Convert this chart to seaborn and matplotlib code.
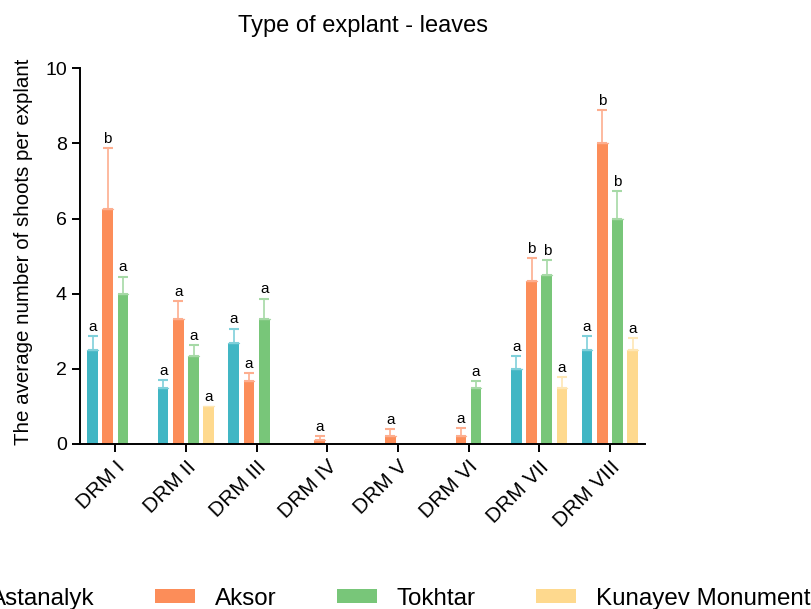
import numpy as np
import pandas as pd
import matplotlib
matplotlib.use('Agg')
import matplotlib.pyplot as plt
import seaborn as sns

# Data
media = ['DRM I', 'DRM II', 'DRM III', 'DRM IV', 'DRM V', 'DRM VI', 'DRM VII', 'DRM VIII']
cultivars = ['Astanalyk', 'Aksor', 'Tokhtar', 'Kunayev Monument']

astanalyk = [2.5, 1.5, 2.7, 0, 0, 0, 2.0, 2.5]
aksor     = [6.25, 3.33, 1.67, 0.1, 0.2, 0.2, 4.33, 8.0]
tokhtar   = [4.0, 2.33, 3.33, 0, 0, 1.5, 4.5, 6.0]
kunayev   = [0, 1.0, 0, 0, 0, 0, 1.5, 2.5]

astanalyk_err = [0.37, 0.19, 0.37, 0, 0, 0, 0.34, 0.37]
aksor_err     = [1.62, 0.47, 0.21, 0.11, 0.2, 0.22, 0.62, 0.89]
tokhtar_err   = [0.45, 0.3, 0.54, 0, 0, 0.18, 0.39, 0.73]
kunayev_err   = [0, 0, 0, 0, 0, 0, 0.28, 0.32]

astanalyk_let = ['a', 'a', 'a', '', '', '', 'a', 'a']
aksor_let     = ['b', 'a', 'a', 'a', 'a', 'a', 'b', 'b']
tokhtar_let   = ['a', 'a', 'a', '', '', 'a', 'b', 'b']
kunayev_let   = ['', 'a', '', '', '', '', 'a', 'a']

colors     = ['#41b6c4', '#fc8d59', '#78c679', '#fed98e']
err_colors = ['#7fd0da', '#fdae8f', '#a6d9a6', '#fee6b4']

values  = [astanalyk, aksor, tokhtar, kunayev]
errors  = [astanalyk_err, aksor_err, tokhtar_err, kunayev_err]
letters = [astanalyk_let, aksor_let, tokhtar_let, kunayev_let]

df = pd.DataFrame({
    'Medium'  : media * len(cultivars),
    'Cultivar': np.repeat(cultivars, len(media)),
    'Shoots'  : np.concatenate(values),
})

sns.set_style('ticks')
plt.rcParams['font.family'] = ['Liberation Sans', 'DejaVu Sans']
plt.rcParams['text.color'] = 'black'
plt.rcParams['axes.labelcolor'] = 'black'

fig = plt.figure(figsize=(8.12, 6.09), dpi=100)
ax = fig.add_axes([0.0985, 0.271, 0.696, 0.617])

sns.barplot(data=df, x='Medium', y='Shoots', hue='Cultivar',
            order=media, hue_order=cultivars, palette=colors,
            width=0.86, gap=0.3, errorbar=None, saturation=1,
            linewidth=0, ax=ax, legend=True)

# error bars (upper only) and significance letters
bar_conts = list(ax.containers)
for k, cont in enumerate(bar_conts):
    for i, bar in enumerate(cont):
        h = bar.get_height()
        if h <= 0:
            continue
        xc = bar.get_x() + bar.get_width() / 2
        e = errors[k][i]
        ax.plot([bar.get_x(), bar.get_x() + bar.get_width()], [h, h],
                color=err_colors[k], lw=1, zorder=3)
        if e > 0:
            ax.errorbar(xc, h, yerr=[[0], [e]], fmt='none',
                        ecolor=err_colors[k], elinewidth=1.2,
                        capsize=3.5, capthick=1.5, zorder=3)
        if letters[k][i]:
            ax.text(xc, h + e + 0.06, letters[k][i], ha='center',
                    va='bottom', fontsize=11, color='black')

ax.set_ylim(0, 10)
ax.set_xlim(-0.5, 7.5)
ax.set_yticks([0, 2, 4, 6, 8, 10])
ax.set_xlabel('')
ax.set_ylabel('The average number of shoots per explant', fontsize=14.8)
ax.yaxis.set_label_coords(-0.083, 0.512)
ax.set_title('Type of explant - leaves', fontsize=17, pad=26)
ax.tick_params(axis='both', labelsize=14, length=6, width=1.4, colors='black')
ax.tick_params(axis='x', labelsize=15)
plt.setp(ax.get_xticklabels(), rotation=45, ha='right', rotation_mode='anchor')
for s in ['left', 'bottom']:
    ax.spines[s].set_linewidth(1.4)
    ax.spines[s].set_color('black')
sns.despine(ax=ax)

handles, labels = ax.get_legend_handles_labels()
ax.get_legend().remove()
fig.legend(handles, labels, loc='center', bbox_to_anchor=(0.456, 0.017),
           ncol=4, frameon=False, fontsize=17.4, handlelength=1.65,
           handleheight=0.55, handletextpad=0.83, columnspacing=2.5)

fig.savefig('out.png', dpi=100)
